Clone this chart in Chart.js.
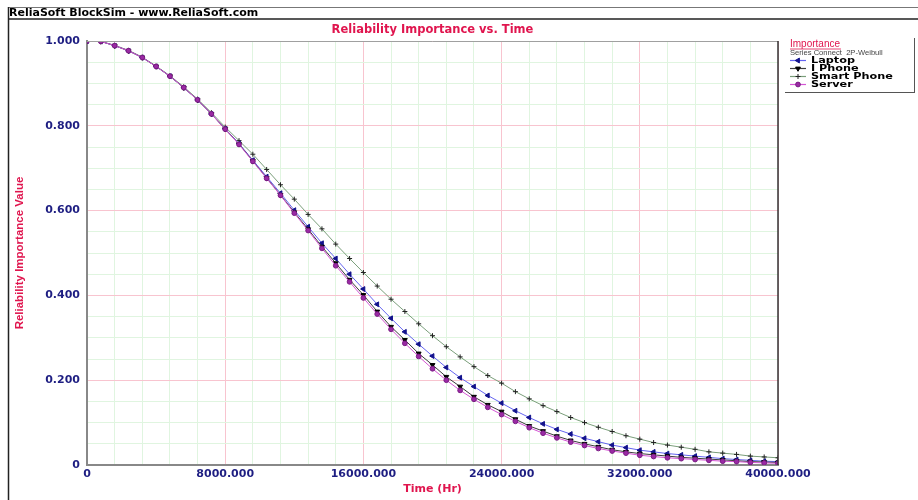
<!DOCTYPE html>
<html lang="en">
  <head>
    <meta charset="UTF-8" />
    <script src="https://cdn.jsdelivr.net/npm/chart.js@4.4.1/dist/chart.umd.min.js"></script>
    <title>Reliability Importance vs. Time</title>
    <style>
      body { margin: 0; background: #fff; }
    </style>
  </head>
  <body>
    <canvas id="myChart" width="918" height="500"></canvas>
    <script>
      // time points (Hr)
      const times = [0, 800, 1600, 2400, 3200, 4000, 4800, 5600, 6400, 7200,
        8000, 8800, 9600, 10400, 11200, 12000, 12800, 13600, 14400, 15200,
        16000, 16800, 17600, 18400, 19200, 20000, 20800, 21600, 22400, 23200,
        24000, 24800, 25600, 26400, 27200, 28000, 28800, 29600, 30400, 31200,
        32000, 32800, 33600, 34400, 35200, 36000, 36800, 37600, 38400, 39200, 40000];

      const laptop = [1.000, 0.999, 0.989, 0.977, 0.961, 0.940, 0.917, 0.890, 0.861, 0.828,
        0.793, 0.758, 0.719, 0.680, 0.641, 0.601, 0.562, 0.523, 0.487, 0.450,
        0.415, 0.379, 0.346, 0.314, 0.285, 0.257, 0.230, 0.206, 0.185, 0.164,
        0.146, 0.128, 0.112, 0.097, 0.084, 0.073, 0.063, 0.055, 0.047, 0.041,
        0.035, 0.031, 0.027, 0.024, 0.021, 0.018, 0.015, 0.013, 0.011, 0.009, 0.008];

      const iPhone = [1.000, 0.999, 0.989, 0.977, 0.961, 0.940, 0.917, 0.890, 0.861, 0.828,
        0.792, 0.757, 0.717, 0.677, 0.637, 0.596, 0.556, 0.515, 0.476, 0.437,
        0.401, 0.362, 0.326, 0.295, 0.263, 0.236, 0.208, 0.185, 0.161, 0.142,
        0.126, 0.108, 0.092, 0.080, 0.068, 0.058, 0.050, 0.043, 0.036, 0.031,
        0.027, 0.024, 0.021, 0.018, 0.016, 0.014, 0.012, 0.010, 0.008, 0.007, 0.006];

      const smartPhone = [1.000, 0.999, 0.990, 0.978, 0.962, 0.941, 0.918, 0.892, 0.863, 0.831,
        0.797, 0.765, 0.733, 0.697, 0.661, 0.627, 0.591, 0.557, 0.521, 0.487,
        0.454, 0.422, 0.391, 0.362, 0.333, 0.305, 0.279, 0.255, 0.232, 0.211,
        0.193, 0.173, 0.156, 0.140, 0.126, 0.112, 0.100, 0.089, 0.079, 0.069,
        0.061, 0.053, 0.047, 0.042, 0.037, 0.031, 0.028, 0.025, 0.021, 0.019, 0.017];

      const server = [1.000, 0.999, 0.989, 0.977, 0.961, 0.940, 0.917, 0.890, 0.861, 0.828,
        0.792, 0.756, 0.716, 0.676, 0.636, 0.594, 0.553, 0.511, 0.470, 0.432,
        0.394, 0.356, 0.320, 0.287, 0.256, 0.227, 0.200, 0.176, 0.155, 0.136,
        0.119, 0.103, 0.088, 0.075, 0.064, 0.054, 0.046, 0.039, 0.033, 0.028,
        0.023, 0.020, 0.017, 0.015, 0.013, 0.011, 0.009, 0.008, 0.006, 0.005, 0.004];

      const seriesNames = ["Laptop", "I Phone", "Smart Phone", "Server"];

      const red = "#e0154e";
      const navy = "#1e1e82";

      function pts(vals) {
        return times.map((t, i) => ({ x: t, y: vals[i] }));
      }

      const styles = [
        { line: "#6464f0", fill: "#12128c", stroke: "#12128c", pointStyle: "triangle", rotation: -90, radius: 2.8 },
        { line: "#3c3c3c", fill: "#000000", stroke: "#000000", pointStyle: "triangle", rotation: 180, radius: 2.8 },
        { line: "#7a9e7a", fill: "#222222", stroke: "#222222", pointStyle: "cross", rotation: 0, radius: 2.5 },
        { line: "#d456d4", fill: "#9a2aa4", stroke: "#7a1a84", pointStyle: "circle", rotation: 0, radius: 2.4 },
      ];
      const seriesData = [laptop, iPhone, smartPhone, server];
      const drawOrder = [2, 1, 3, 0];

      const datasets = seriesNames.map((name, i) => ({
        label: name,
        data: pts(seriesData[i]),
        borderColor: styles[i].line,
        borderWidth: 1,
        pointStyle: styles[i].pointStyle,
        pointRotation: styles[i].rotation,
        pointRadius: styles[i].radius,
        pointBackgroundColor: styles[i].fill,
        pointBorderColor: styles[i].stroke,
        pointBorderWidth: 1,
        tension: 0,
        order: drawOrder[i],
      }));

      const decor = {
        id: "decor",
        afterDraw(chart) {
          const { ctx, chartArea: a } = chart;
          ctx.save();
          // header frame
          ctx.strokeStyle = "#777";
          ctx.lineWidth = 1;
          ctx.beginPath();
          ctx.moveTo(8, 7.5); ctx.lineTo(918, 7.5);
          ctx.stroke();
          ctx.strokeStyle = "#222";
          ctx.lineWidth = 1.5;
          ctx.beginPath();
          ctx.moveTo(8, 19); ctx.lineTo(918, 19);
          ctx.moveTo(8.5, 7); ctx.lineTo(8.5, 500);
          ctx.stroke();
          ctx.fillStyle = "#000";
          ctx.font = "bold 11px 'DejaVu Sans'";
          ctx.textBaseline = "middle";
          ctx.fillText("ReliaSoft BlockSim - www.ReliaSoft.com", 9, 13);

          // title
          ctx.fillStyle = red;
          ctx.font = "bold 11.5px 'DejaVu Sans'";
          ctx.textAlign = "center";
          ctx.fillText("Reliability Importance vs. Time", (a.left + a.right) / 2, 30);

          // plot frame top/right
          ctx.strokeStyle = "#a0a0a0";
          ctx.lineWidth = 1;
          ctx.beginPath();
          ctx.moveTo(a.left, a.top + 0.5); ctx.lineTo(a.right, a.top + 0.5);
          ctx.stroke();
          ctx.strokeStyle = "#333";
          ctx.lineWidth = 1.5;
          ctx.beginPath();
          ctx.moveTo(a.right, a.top); ctx.lineTo(a.right, a.bottom);
          ctx.stroke();

          // legend
          const lx = 790;
          ctx.textAlign = "left";
          ctx.fillStyle = red;
          ctx.font = "10px 'Liberation Sans'";
          ctx.fillText("Importance", lx, 44);
          ctx.strokeStyle = red;
          ctx.lineWidth = 0.8;
          ctx.beginPath();
          ctx.moveTo(lx, 49); ctx.lineTo(lx + 51, 49);
          ctx.stroke();
          ctx.fillStyle = "#444";
          ctx.font = "7.6px 'Liberation Sans'";
          ctx.fillText("Series Connect  2P-Weibull", lx, 53);
          seriesNames.forEach((name, i) => {
            const y = 60.5 + i * 8;
            const s = styles[i];
            ctx.strokeStyle = s.line;
            ctx.lineWidth = 1.2;
            ctx.beginPath();
            ctx.moveTo(lx, y); ctx.lineTo(lx + 16, y);
            ctx.stroke();
            ctx.fillStyle = s.fill;
            ctx.strokeStyle = s.stroke;
            ctx.lineWidth = 1;
            Chart.helpers.drawPoint(ctx, { pointStyle: s.pointStyle, rotation: s.rotation, radius: s.radius, borderWidth: 1 }, lx + 8, y);
            ctx.fillStyle = "#000";
            ctx.save();
            ctx.translate(lx + 21, y);
            ctx.scale(1.25, 1);
            ctx.font = "bold 9px 'DejaVu Sans'";
            ctx.fillText(name, 0, 0.5);
            ctx.restore();
          });
          ctx.strokeStyle = "#555";
          ctx.lineWidth = 1;
          ctx.beginPath();
          ctx.moveTo(785, 92.5); ctx.lineTo(915, 92.5);
          ctx.moveTo(914.5, 38); ctx.lineTo(914.5, 93);
          ctx.stroke();
          ctx.restore();
        },
      };

      const ctx = document.getElementById("myChart").getContext("2d");
      const myChart = new Chart(ctx, {
        type: "line",
        data: { datasets: datasets },
        options: {
          responsive: false,
          animation: false,
          layout: { padding: { left: 0, top: 41, right: 140, bottom: 0 } },
          plugins: { legend: { display: false }, tooltip: { enabled: false } },
          scales: {
            x: {
              type: "linear",
              min: 0,
              max: 40000,
              afterFit(scale) { scale.height = 35; },
              afterBuildTicks(scale) {
                const t = [];
                for (let v = 0; v <= 40000; v += 1600) t.push({ value: v });
                scale.ticks = t;
              },
              grid: {
                drawTicks: false,
                color: (c) => (c.tick && c.tick.value % 8000 === 0 ? "#f8c4cf" : "#e0f5e0"),
              },
              border: { color: "#888", width: 2 },
              ticks: {
                autoSkip: false,
                maxRotation: 0,
                padding: 3,
                color: navy,
                font: { family: "DejaVu Sans", weight: "bold", size: 11 },
                callback: (v) => (v % 8000 !== 0 ? "" : v === 0 ? "0" : v.toFixed(3)),
              },
              title: {
                display: true,
                text: "Time (Hr)",
                color: red,
                font: { family: "DejaVu Sans", weight: "bold", size: 11 },
                padding: { top: 0, bottom: 4 },
              },
            },
            y: {
              min: 0,
              max: 1,
              afterFit(scale) { scale.width = 87; },
              afterBuildTicks(scale) {
                const t = [];
                for (let i = 0; i <= 20; i++) t.push({ value: i / 20 });
                scale.ticks = t;
              },
              grid: {
                drawTicks: false,
                color: (c) => (c.tick && Math.round(c.tick.value * 100) % 20 === 0 ? "#f8c4cf" : "#e0f5e0"),
              },
              border: { color: "#888", width: 2 },
              ticks: {
                autoSkip: false,
                padding: 7,
                color: navy,
                font: { family: "DejaVu Sans", weight: "bold", size: 11 },
                callback: (v) => {
                  const k = Math.round(v * 100);
                  if (k % 20 !== 0) return "";
                  return k === 0 ? "0" : v.toFixed(3);
                },
              },
              title: {
                display: true,
                text: "Reliability Importance Value",
                color: red,
                font: { family: "Liberation Sans", weight: "bold", size: 11.5 },
                padding: { top: 13, bottom: 0 },
              },
            },
          },
        },
        plugins: [decor],
      });
    </script>
  </body>
</html>
